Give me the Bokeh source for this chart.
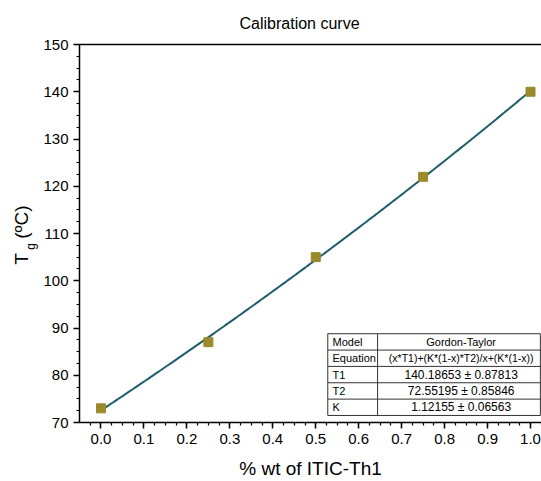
import numpy as np
from bokeh.plotting import figure
from bokeh.layouts import row
from bokeh.models import LinearAxis, Range1d, FixedTicker, ColumnDataSource
from bokeh.core.properties import value
from bokeh.embed import file_html
from bokeh.resources import INLINE

FONT = "Liberation Sans"

# Measured glass-transition temperatures
wt_fraction = [0.0, 0.25, 0.5, 0.75, 1.0]
tg_measured = [73.0, 87.0, 105.0, 122.0, 140.0]

# Gordon-Taylor fit parameters
T1, T1_err = 140.18653, 0.87813
T2, T2_err = 72.55195, 0.85846
K, K_err = 1.12155, 0.06563

x_ticks = [0.0, 0.1, 0.2, 0.3, 0.4, 0.5, 0.6, 0.7, 0.8, 0.9, 1.0]
y_ticks = [70, 80, 90, 100, 110, 120, 130, 140, 150]

table_keys = ["Model", "Equation", "T1", "T2", "K"]
table_vals = [
    "Gordon-Taylor",
    "(x*T1)+(K*(1-x)*T2)/x+(K*(1-x))",
    f"{T1:.5f} \u00b1 {T1_err:.5f}",
    f"{T2:.5f} \u00b1 {T2_err:.5f}",
    f"{K:.5f} \u00b1 {K_err:.5f}",
]
table_val_sizes = ["11px", "10.5px", "12px", "12px", "12px"]

H = 481

# Narrow strip holding the y-axis title (T with subscript g)
lab = figure(width=40, height=H, output_backend="svg", toolbar_location=None,
             x_range=Range1d(0, 40), y_range=Range1d(0, H),
             min_border=0, outline_line_color=None)
lab.axis.visible = False
lab.grid.visible = False
lab.background_fill_color = "white"
lab.border_fill_color = "white"
lab.text(x=[21], y=[208], text=["T"], angle=np.pi / 2, text_font=value(FONT),
         text_font_size="19px", text_align="center", text_baseline="middle",
         text_color="black")
lab.text(x=[30.5], y=[224], text=["g"], angle=np.pi / 2, text_font=value(FONT),
         text_font_size="12px", text_align="center", text_baseline="middle",
         text_color="black")
lab.text(x=[21], y=[255], text=["(\u00baC)"], angle=np.pi / 2, text_font=value(FONT),
         text_font_size="19px", text_align="center", text_baseline="middle",
         text_color="black")

p = figure(width=501, height=H, output_backend="svg", toolbar_location=None,
           x_range=Range1d(-0.05, 1.0256), y_range=Range1d(70, 150),
           min_border_left=38, min_border_right=0, min_border_top=44,
           min_border_bottom=10)
p.background_fill_color = "white"
p.border_fill_color = "white"
p.outline_line_color = None
p.xgrid.grid_line_color = None
p.ygrid.grid_line_color = None

p.title.text = "Calibration curve"
p.title.text_font = FONT
p.title.text_font_size = "16px"
p.title.text_font_style = "normal"
p.title.text_color = "black"
p.title.align = "left"
p.title.offset = 160
p.title.standoff = 25

for ax in (p.xaxis[0], p.yaxis[0]):
    ax.axis_line_width = 1.5
    ax.axis_line_color = "black"
    ax.major_tick_line_width = 1.5
    ax.minor_tick_line_width = 1.2
    ax.major_tick_line_color = "black"
    ax.minor_tick_line_color = "black"
    ax.major_tick_in = 0
    ax.major_tick_out = 6
    ax.minor_tick_in = 0
    ax.minor_tick_out = 3
    ax.major_label_text_font = FONT
    ax.major_label_text_font_size = "15px"
    ax.major_label_text_color = "black"
    ax.axis_label_text_font = FONT
    ax.axis_label_text_font_style = "normal"
    ax.axis_label_text_font_size = "19px"
    ax.axis_label_text_color = "black"

p.xaxis.ticker = FixedTicker(ticks=x_ticks,
                             minor_ticks=[round(t * 0.025, 3) for t in range(-1, 42)])
p.yaxis.ticker = FixedTicker(ticks=y_ticks,
                             minor_ticks=[70 + 2.5 * i for i in range(33)])
p.xaxis.major_label_overrides = {t: f"{t:.1f}" for t in x_ticks}
p.xaxis.axis_label = "% wt of ITIC-Th1"
p.xaxis.axis_label_standoff = 11
p.yaxis.axis_label = None

# Plain top border line
top = LinearAxis(major_tick_out=0, major_tick_in=0, minor_tick_out=0, minor_tick_in=0,
                 major_label_text_font_size="0px", axis_line_width=1.5,
                 axis_line_color="black")
top.ticker = FixedTicker(ticks=[])
p.add_layout(top, "above")

# Gordon-Taylor curve from the fitted parameters
xf = np.linspace(0.0, 1.0, 200)
yf = (xf * T1 + K * (1 - xf) * T2) / (xf + K * (1 - xf))
p.line(xf, yf, line_color="#1e5f6a", line_width=2)
p.scatter(wt_fraction, tg_measured, marker="square", size=9,
          fill_color="#9a8a2c", line_color="#9a8a2c")

# Fit summary table
tx0, tx1, tx2 = 0.528, 0.644, 1.023
ty_top, row_h = 88.79, 3.46
n = len(table_keys)
ty_bot = ty_top - n * row_h
p.quad(left=[tx0], right=[tx2], top=[ty_top], bottom=[ty_bot],
       fill_color="white", line_color="#333333", line_width=1)
row_y = [ty_top - row_h * (i + 1) for i in range(n - 1)]
p.segment(x0=[tx0] * (n - 1), y0=row_y, x1=[tx2] * (n - 1), y1=row_y,
          line_color="#333333", line_width=1)
p.segment(x0=[tx1], y0=[ty_top], x1=[tx1], y1=[ty_bot], line_color="#333333", line_width=1)
centers = [ty_top - row_h * (i + 0.5) for i in range(n)]
src = ColumnDataSource(dict(kx=[tx0 + 0.011] * n, vx=[(tx1 + tx2) / 2 + 0.005] * n,
                            y=centers, k=table_keys, v=table_vals, vs=table_val_sizes))
p.text(x="kx", y="y", text="k", source=src, text_font=value(FONT),
       text_font_size="11px", text_baseline="middle", text_align="left", text_color="black")
p.text(x="vx", y="y", text="v", source=src, text_font=value(FONT),
       text_font_size="vs", text_baseline="middle", text_align="center", text_color="black")

layout = row(lab, p, spacing=0)
open("out.html", "w").write(file_html(layout, INLINE))
